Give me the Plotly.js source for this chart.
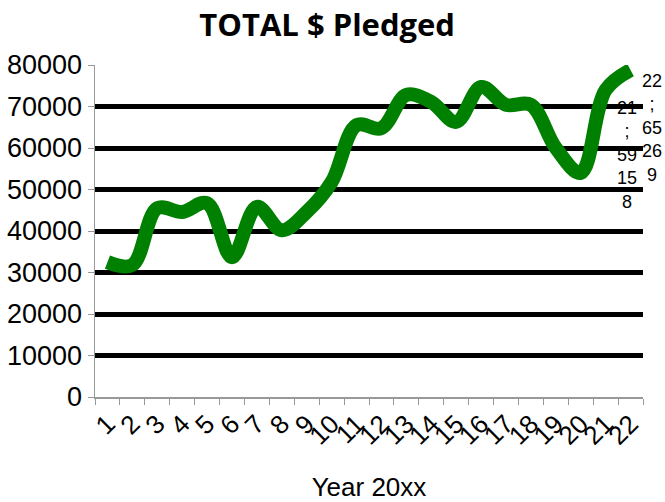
<!DOCTYPE html>
<html>
<head>
<meta charset="utf-8">
<script src="https://cdn.plot.ly/plotly-3.0.1.min.js"></script>
<style>html,body{margin:0;padding:0;background:#fff;}#chart{width:665px;height:502px;}</style>
</head>
<body>
<div id="chart"></div>
<script>
// Data
const years = ["1","2","3","4","5","6","7","8","9","10","11","12","13","14","15","16","17","18","19","20","21","22"];
const pledged = [32500,31800,45500,44600,46700,33700,45800,40200,44600,51800,65500,64800,72800,71100,66300,74700,70400,70400,60000,54000,74000,78800];
const yTicks = [0,10000,20000,30000,40000,50000,60000,70000,80000];
// Data labels shown for the last two points (as printed, wrapped)
const labelCats = ["21","22"];
const labelLines = [["21",";","59","15","8"],["22",";","65","26","9"]];

const trace = {
  x: years,
  y: pledged,
  type: 'scatter',
  mode: 'lines',
  line: {color: '#008000', width: 14, shape: 'spline', smoothing: 1},
  hoverinfo: 'x+y'
};

const annotations = labelCats.map((c, i) => {
  const idx = years.indexOf(c);
  return {
    x: idx, y: pledged[idx], xref: 'x', yref: 'y',
    text: labelLines[i].join('<br>'),
    showarrow: false,
    xanchor: 'center', yanchor: 'top',
    xshift: i === 0 ? 21 : 21,
    yshift: i === 0 ? -6 : 1,
    align: 'center',
    font: {family: 'Liberation Sans, Arial, sans-serif', size: 18, color: '#000'}
  };
});

const layout = {
  width: 665, height: 502,
  margin: {l: 95, r: 22, t: 65, b: 105},
  paper_bgcolor: '#fff', plot_bgcolor: '#fff',
  showlegend: false,
  title: {
    text: '<b>TOTAL $ Pledged</b>',
    font: {family: 'Open Sans, sans-serif', size: 31, color: '#000'},
    x: 0.492, xanchor: 'center', y: 0.95, yanchor: 'middle'
  },
  xaxis: {
    type: 'category',
    range: [-0.5, years.length - 0.5],
    tickmode: 'array', tickvals: years, ticktext: years,
    tickson: 'boundaries',
    ticks: 'outside', ticklen: 6, tickcolor: '#999', tickwidth: 1,
    showline: true, linecolor: '#999', linewidth: 1.5,
    showgrid: false, zeroline: false,
    tickangle: -45,
    tickfont: {family: 'Liberation Sans, Arial, sans-serif', size: 26, color: '#000'},
    title: {text: 'Year 20xx', font: {family: 'Liberation Sans, Arial, sans-serif', size: 26, color: '#000'}, standoff: 28},
    automargin: false
  },
  yaxis: {
    range: [0, 80000],
    tickvals: yTicks,
    ticktext: yTicks.map(String),
    ticks: 'outside', ticklen: 6, tickcolor: '#999', tickwidth: 1,
    showline: true, linecolor: '#999', linewidth: 1.5,
    showgrid: true, gridcolor: '#000', gridwidth: 5,
    zeroline: false,
    tickfont: {family: 'Liberation Sans, Arial, sans-serif', size: 27, color: '#000'},
    automargin: false
  },
  annotations: annotations
};

Plotly.newPlot('chart', [trace], layout, {displayModeBar: false, staticPlot: true});
</script>
</body>
</html>
